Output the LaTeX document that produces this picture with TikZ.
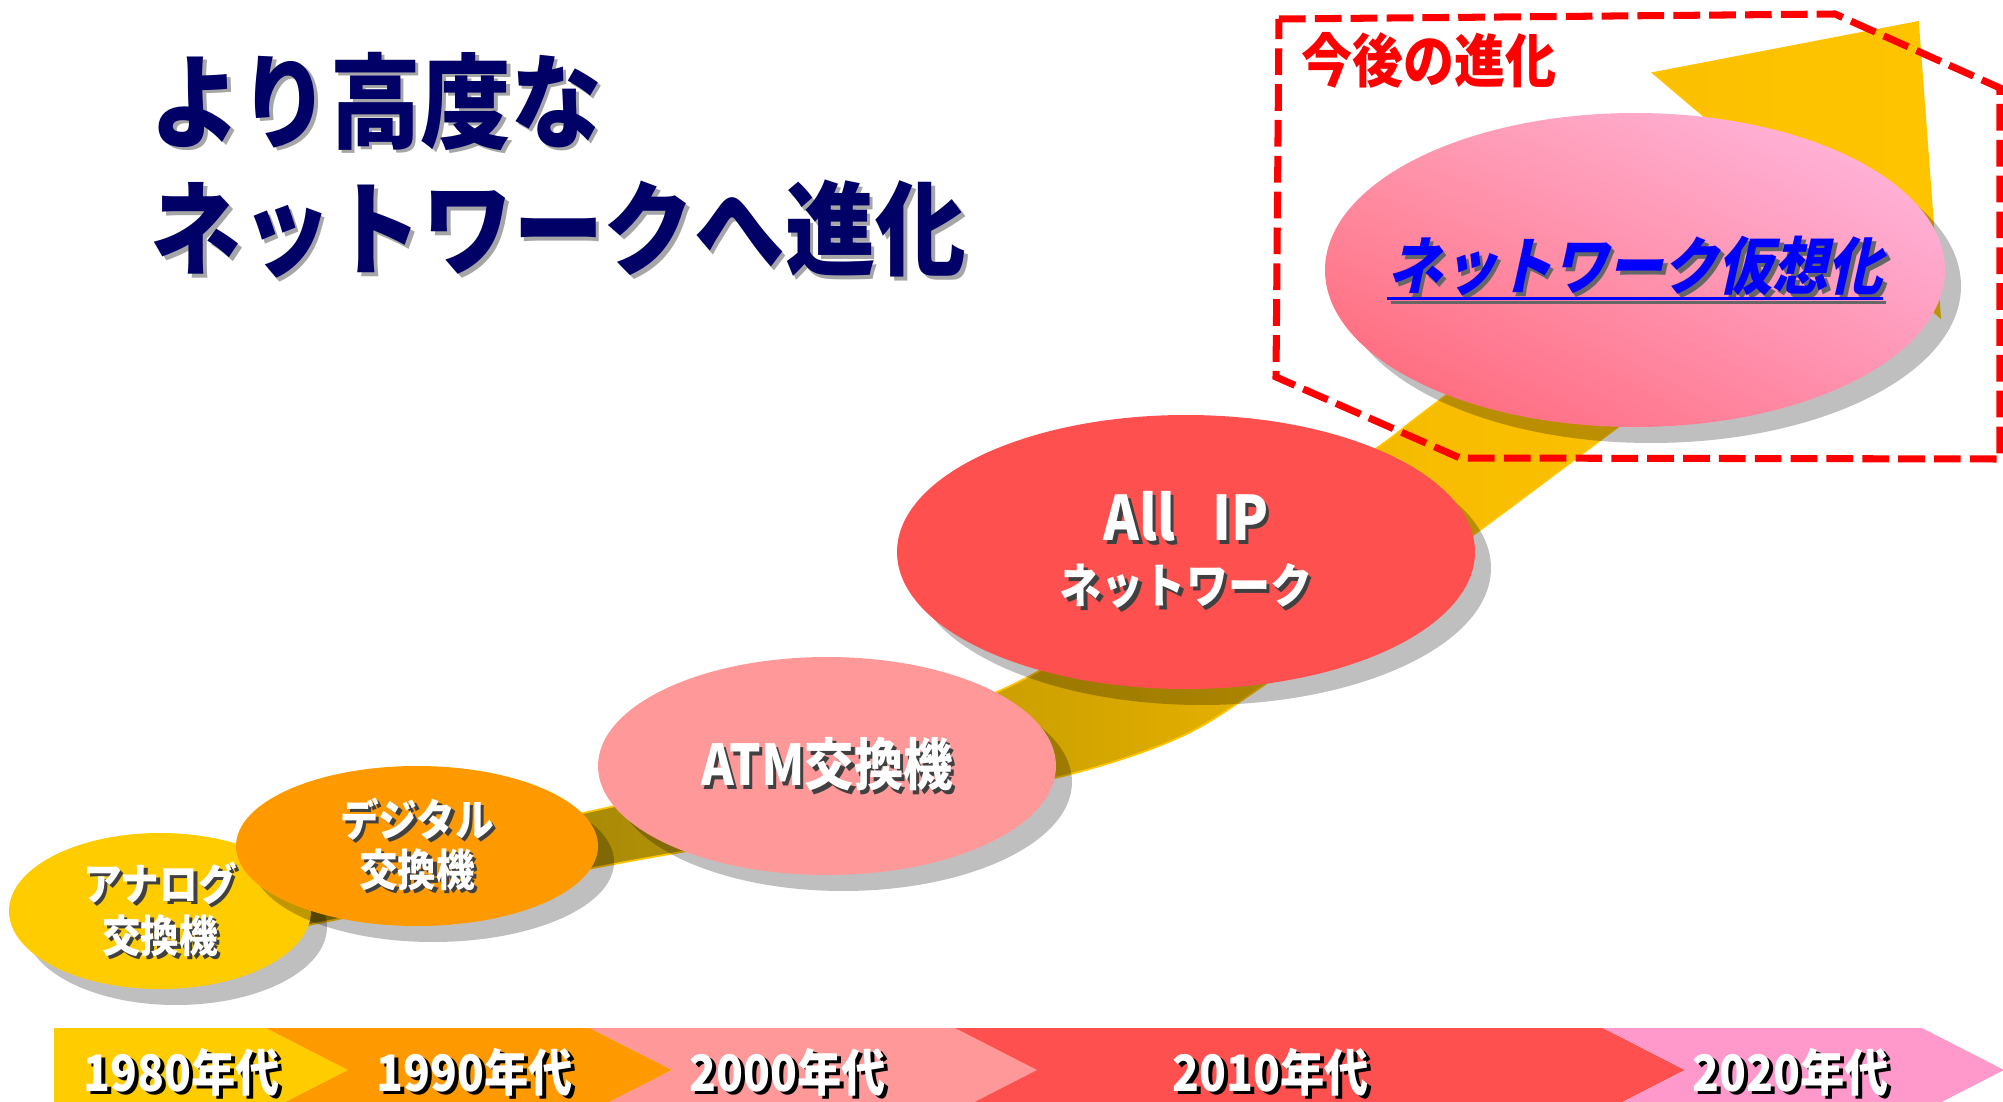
\documentclass[tikz,border=0pt]{standalone}
\usepackage{fontspec}
\newfontfamily\jp{Noto Sans CJK JP}[FakeStretch=0.88]
\newfontfamily\jpslant{Noto Sans CJK JP}[FakeStretch=0.88, FakeSlant=0.22]
\usetikzlibrary{shapes.geometric, shadows, shadings}

\definecolor{navy}{HTML}{000066}
\definecolor{analog}{HTML}{FFCC00}
\definecolor{digital}{HTML}{FF9900}
\definecolor{atm}{HTML}{FF9999}
\definecolor{allip}{HTML}{FF5050}
\definecolor{future}{HTML}{FF99CC}
\definecolor{bandgold}{HTML}{FFC400}
\definecolor{virtll}{HTML}{FF6070}
\definecolor{virtur}{HTML}{FFBCE6}
\definecolor{virtul}{HTML}{FF96AC}
\definecolor{virtlr}{HTML}{FF92B0}

% gold band, darker towards the lower left
\pgfdeclarehorizontalshading{bandshade}{100bp}{rgb(0bp)=(0.56,0.47,0); rgb(25bp)=(0.56,0.47,0); rgb(37.5bp)=(0.69,0.56,0.03); rgb(49bp)=(0.82,0.64,0); rgb(60bp)=(0.97,0.74,0); rgb(75bp)=(1,0.77,0); rgb(100bp)=(1,0.77,0)}

% text with a small shadow below right
\newcommand{\shadowed}[2]{\leavevmode\rlap{\kern1pt\raisebox{-1pt}{\textcolor{#1}{#2}}}#2}
\newcommand{\ulinetext}[1]{\setbox0\hbox{#1}\rlap{\raisebox{-3.1pt}{\rule{\wd0}{0.9pt}}}\box0}

\begin{document}
\begin{tikzpicture}[x=0.1mm, y=-0.1mm]
	\tikzstyle {bubble} = [ellipse, inner sep = 0pt, text = white, align = center, drop shadow = {shadow xshift = 1.6mm, shadow yshift = -1.6mm, opacity = 0.25, fill = black}];
	\tikzstyle {yeartext} = [inner sep = 0pt, text = white, font = \jp\bfseries\fontsize{14.3}{16}\selectfont];
	\clip (0, 0) rectangle (2003, 1102);

	% curved arrow behind the bubbles
	\shadedraw[draw = bandgold, line width = 0.5pt, shading = bandshade]
		plot[smooth] coordinates {(260, 935) (593, 868) (850, 822) (1067, 775) (1180, 737) (1267, 683) (1480, 530) (1857, 247)}
		-- (1940, 317) -- (1918, 22) -- (1653, 73)
		-- plot[smooth] coordinates {(1758, 162) (1440, 400) (1377, 448) (1210, 565) (1010, 686) (800, 760) (583, 813) (400, 845) (240, 880)}
		-- cycle;

	% bubbles
	\node[bubble, fill = analog, minimum width = 30.2mm, minimum height = 15.6mm, font = \jp\bfseries\fontsize{12.5}{14.8}\selectfont] (analog) at (160, 911) {\shadowed{black!75}{アナログ}\\\shadowed{black!75}{交換機}};
	\node[bubble, fill = digital, minimum width = 36.2mm, minimum height = 16mm, font = \jp\bfseries\fontsize{12.5}{14.2}\selectfont] (digital) at (417, 846) {\shadowed{black!75}{デジタル}\\\shadowed{black!75}{交換機}};
	\node[bubble, fill = atm, minimum width = 45.8mm, minimum height = 21.8mm, font = \jp\bfseries\fontsize{16}{18}\selectfont] (atm) at (827, 766) {\shadowed{black!75}{ATM交換機}};
	\node[bubble, fill = allip, minimum width = 57.8mm, minimum height = 27.4mm, font = \jp\bfseries\fontsize{13.6}{17.9}\selectfont] (allip) at (1186, 552) {\shadowed{black!75}{\fontsize{17.5}{17.9}\selectfont All\hspace{0.6em}IP}\\\shadowed{black!75}{ネットワーク}};
	\node[bubble, lower left = virtll, upper right = virtur, upper left = virtul, lower right = virtlr, minimum width = 62mm, minimum height = 31.4mm, text = blue, font = \jpslant\bfseries\fontsize{17.8}{20}\selectfont] (virt) at (1635, 270) {\makebox[0pt]{\shadowed{black!60}{\ulinetext{ネットワーク仮想化}}}};

	% future frame
	\draw[red, line width = 2pt, dash pattern = on 7.6pt off 2.6pt] (1279, 19) -- (1835, 14) -- (2000, 88) -- (2000, 459) -- (1460, 458) -- (1276, 377) -- cycle;
	\node[text = red, inner sep = 0pt, font = \jp\bfseries\fontsize{16.5}{18}\selectfont] (next) at (1429, 60) {今後の進化};

	% title
	\node[anchor = west, inner sep = 0pt, text = navy, font = \jp\bfseries\fontsize{29.3}{32}\selectfont] (title1) at (150, 103) {\shadowed{black!35}{より高度な}};
	\node[anchor = west, inner sep = 0pt, text = navy, font = \jp\bfseries\fontsize{29.3}{32}\selectfont] (title2) at (150, 231) {\shadowed{black!35}{ネットワークへ進化}};

	% time line
	\foreach \lft/\rgt/\notch/\col in {54/266/0/analog, 266/590/82/digital, 590/955/82/atm, 955/1603/82/allip, 1603/1922/82/future} {
			\fill[\col] (\lft, 1028) -- (\rgt, 1028) -- (\rgt + 82, 1070) -- (\rgt, 1112) -- (\lft, 1112) -- (\lft + \notch, 1070) -- cycle;
		}
	\foreach \xc/\yr in {182/1980, 475/1990, 788/2000, 1271/2010, 1791/2020} {
			\node[yeartext] (y\yr) at (\xc, 1074) {\shadowed{black}{\yr 年代}};
		}
\end{tikzpicture}
\end{document}
